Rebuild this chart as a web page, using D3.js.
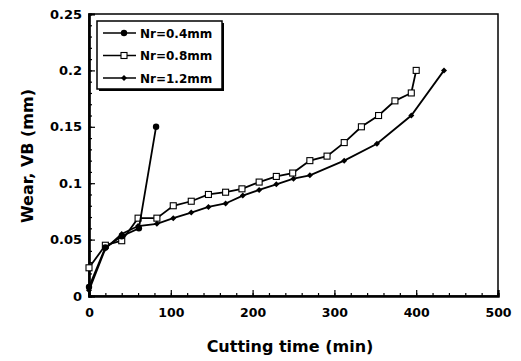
<!DOCTYPE html>
<html><head><meta charset="utf-8">
<script src="https://cdn.jsdelivr.net/npm/d3@7"></script>
<style>body{margin:0;background:#fff}svg{display:block}text{font-family:"DejaVu Sans",sans-serif;font-weight:bold;fill:#000}</style>
</head><body>
<svg id="c" width="521" height="361"></svg>
<script>
const seriesNames = ["Nr=0.4mm", "Nr=0.8mm", "Nr=1.2mm"];
const timeA = [0, 20, 40, 61, 82];
const wearA = [0.008, 0.043, 0.053, 0.06, 0.15];
const timeB = [0, 20, 40, 60, 83, 103, 125, 146, 167, 187, 208, 229, 249, 270, 291, 312, 333, 354, 374, 394, 400];
const wearB = [0.025, 0.045, 0.049, 0.069, 0.069, 0.08, 0.084, 0.09, 0.092, 0.095, 0.101, 0.106, 0.109, 0.12, 0.124, 0.136, 0.15, 0.16, 0.173, 0.18, 0.2];
const timeC = [0, 20, 40, 60, 83, 103, 125, 146, 167, 188, 208, 229, 250, 270, 312, 352, 394, 434];
const wearC = [0.005, 0.042, 0.055, 0.062, 0.064, 0.069, 0.074, 0.079, 0.082, 0.089, 0.094, 0.099, 0.104, 0.107, 0.12, 0.135, 0.16, 0.2];
const xTicks = [0, 100, 200, 300, 400, 500];
const yTicks = [0, 0.05, 0.1, 0.15, 0.2, 0.25];
const yTickLabels = ["0", "0.05", "0.1", "0.15", "0.2", "0.25"];

const svg = d3.select("#c");
const x = d3.scaleLinear().domain([0, 500]).range([89, 498]);
const y = d3.scaleLinear().domain([0, 0.25]).range([296, 14]);

// frame
svg.append("rect").attr("x", x(0)).attr("y", y(0.25)).attr("width", x(500)-x(0)).attr("height", y(0)-y(0.25))
  .attr("fill", "none").attr("stroke", "#000").attr("stroke-width", 1.5);

const FONT = "DejaVu Sans, sans-serif";
// axes with inward ticks
const gx = svg.append("g").attr("transform", `translate(0,${y(0)})`);
gx.call(d3.axisBottom(x).tickValues(d3.range(0, 501, 20)).tickSize(-3).tickFormat(""));
gx.selectAll(".tick line").attr("stroke-width", 1.2);
const gx2 = svg.append("g").attr("transform", `translate(0,${y(0)})`);
gx2.call(d3.axisBottom(x).tickValues(xTicks).tickSize(-6).tickPadding(10));
gx2.selectAll("text").attr("font-size", 12.5).attr("dy", "0.9em").style("font-family", FONT).style("font-weight", "bold");
gx2.selectAll(".tick line").attr("stroke-width", 1.2);
[gx, gx2].forEach(g => g.select(".domain").attr("stroke-width", 2.2));

const gy = svg.append("g").attr("transform", `translate(${x(0)},0)`);
gy.call(d3.axisLeft(y).tickValues(d3.range(0, 0.2501, 0.01)).tickSize(-3).tickFormat(""));
gy.selectAll(".tick line").attr("stroke-width", 1.2);
const gy2 = svg.append("g").attr("transform", `translate(${x(0)},0)`);
gy2.call(d3.axisLeft(y).tickValues(yTicks).tickSize(-6).tickPadding(7).tickFormat((d, i) => yTickLabels[i]));
gy2.selectAll(".tick line").attr("stroke-width", 1.2);
gy2.selectAll("text").attr("font-size", 13).style("font-family", FONT).style("font-weight", "bold");
[gy, gy2].forEach(g => g.select(".domain").attr("stroke-width", 2.2));

// titles
svg.append("text").attr("x", 290).attr("y", 352).attr("text-anchor", "middle").attr("font-size", 16).text("Cutting time (min)");
svg.append("text").attr("transform", "translate(33,156) rotate(-90)").attr("text-anchor", "middle").attr("font-size", 16).text("Wear, VB (mm)");

const line = d3.line().x(d => x(d[0])).y(d => y(d[1]));
const sets = [
  {t: timeA, w: wearA, m: "circle"},
  {t: timeB, w: wearB, m: "square"},
  {t: timeC, w: wearC, m: "diamond"}
];
function marker(g, type, cx, cy) {
  if (type === "circle") g.append("circle").attr("cx", cx).attr("cy", cy).attr("r", 3.2).attr("fill", "#000");
  else if (type === "square") g.append("rect").attr("x", cx-3).attr("y", cy-3).attr("width", 6).attr("height", 6).attr("fill", "#fff").attr("stroke", "#000").attr("stroke-width", 1.1);
  else g.append("path").attr("d", `M${cx},${cy-3}L${cx+3},${cy}L${cx},${cy+3}L${cx-3},${cy}Z`).attr("fill", "#000");
}
// draw series 0.8 first, then 1.2, then 0.4
[1, 2, 0].forEach(i => {
  const s = sets[i];
  const pts = s.t.map((t, j) => [t, s.w[j]]);
  svg.append("path").attr("d", line(pts)).attr("fill", "none").attr("stroke", "#000").attr("stroke-width", 1.8);
  const g = svg.append("g");
  pts.forEach(p => marker(g, s.m, x(p[0]), y(p[1])));
});

// legend
const lg = svg.append("g");
lg.append("rect").attr("x", 99).attr("y", 23).attr("width", 125).attr("height", 68).attr("fill", "#000");
lg.append("rect").attr("x", 97).attr("y", 21).attr("width", 125).attr("height", 68).attr("fill", "#fff").attr("stroke", "#000").attr("stroke-width", 1.5);
seriesNames.forEach((n, i) => {
  const yy = 33 + i * 22.5;
  lg.append("line").attr("x1", 103).attr("x2", 136).attr("y1", yy).attr("y2", yy).attr("stroke", "#000").attr("stroke-width", 1.5);
  marker(lg, sets[i].m, 124, yy);
  lg.append("text").attr("x", 140).attr("y", yy + 4.5).attr("font-size", 12).text(n);
});
</script>
</body></html>
